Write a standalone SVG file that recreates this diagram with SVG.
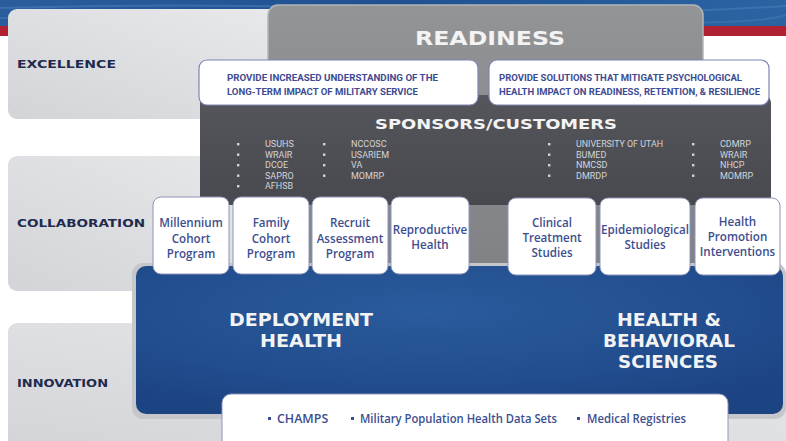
<svg xmlns="http://www.w3.org/2000/svg" width="786" height="441" viewBox="0 0 786 441">
<defs>
<linearGradient id="gPanel" x1="1" y1="0" x2="0" y2="1">
<stop offset="0" stop-color="#e9eaec"/>
<stop offset="1" stop-color="#d3d4d7"/>
</linearGradient>
<linearGradient id="gReady" x1="0" y1="0" x2="0" y2="1">
<stop offset="0" stop-color="#929496"/>
<stop offset="1" stop-color="#7f8184"/>
</linearGradient>
<linearGradient id="gSpon" x1="0" y1="0" x2="0" y2="1">
<stop offset="0" stop-color="#55565c"/>
<stop offset="1" stop-color="#48494f"/>
</linearGradient>
<radialGradient id="gBlue" cx="0.45" cy="0.3" r="0.75">
<stop offset="0" stop-color="#2a5b9c"/>
<stop offset="0.6" stop-color="#224e8f"/>
<stop offset="1" stop-color="#1c4382"/>
</radialGradient>
<linearGradient id="gBanner" x1="0" y1="0" x2="1" y2="0">
<stop offset="0" stop-color="#2a5d9c"/>
<stop offset="0.5" stop-color="#1f5192"/>
<stop offset="1" stop-color="#2c64a3"/>
</linearGradient>
<style>
.label{font-family:"DejaVu Sans",sans-serif;font-weight:bold;font-size:11px;fill:#1f2b4e}
.title{font-family:"DejaVu Sans",sans-serif;font-weight:bold;fill:#f3f3f3}
.obj{fill:#fff;stroke:#7d84b3;stroke-width:1.2}
.objt{font-family:Roboto,"Liberation Sans",sans-serif;font-weight:bold;font-size:9.6px;fill:#3e4b92}
.sp{font-family:Roboto,"Liberation Sans",sans-serif;font-size:9px;fill:#d3d4d8}
.bul{fill:#d3d4d8}
.box{fill:#fff;stroke:#8d95bb;stroke-width:1}
.bt{font-family:"Open Sans","Liberation Sans",sans-serif;font-weight:600;font-size:11.6px;fill:#3d4e8f;text-anchor:middle}
.bl{font-family:"Open Sans","Liberation Sans",sans-serif;font-weight:600;font-size:12.4px;fill:#3d4e8f}
.bb{fill:#3d4e8f}
</style>
</defs>

<g id="banner">
<rect x="0" y="0" width="786" height="27" fill="url(#gBanner)"/>
<path d="M0 8 Q200 2 400 10 T786 6" fill="none" stroke="#4a7bb5" stroke-width="2" opacity="0.6"/>
<path d="M0 18 Q250 12 500 20 T786 15" fill="none" stroke="#4a7bb5" stroke-width="2" opacity="0.5"/>
<rect x="0" y="26" width="786" height="10" fill="#b02232"/>
</g>

<g id="excellence">
<rect x="8" y="9" width="300" height="110" rx="9" fill="url(#gPanel)"/>
<text class="label" x="17" y="68" textLength="99" lengthAdjust="spacingAndGlyphs">EXCELLENCE</text>
</g>

<g id="collaboration">
<rect x="8" y="156" width="300" height="135" rx="9" fill="url(#gPanel)"/>
<text class="label" x="17" y="227" textLength="128" lengthAdjust="spacingAndGlyphs">COLLABORATION</text>
</g>

<g id="innovation">
<rect x="8" y="323" width="790" height="130" rx="9" fill="url(#gPanel)"/>
<text class="label" x="17" y="387" textLength="91" lengthAdjust="spacingAndGlyphs">INNOVATION</text>
</g>

<g id="readiness">
<rect x="268" y="5" width="435" height="272" rx="10" fill="url(#gReady)" stroke="#b3b5b8" stroke-width="1.5"/>
<text class="title" x="415" y="45" font-size="19" textLength="150" lengthAdjust="spacingAndGlyphs">READINESS</text>
</g>

<g id="sponsors">
<rect x="200" y="95" width="571" height="110" rx="8" fill="url(#gSpon)"/>
<text class="title" x="375" y="128.5" font-size="14" textLength="242" lengthAdjust="spacingAndGlyphs">SPONSORS/CUSTOMERS</text>
<g class="bul">
<rect x="237" y="143" width="2.4" height="2.4"/><rect x="237" y="153.5" width="2.4" height="2.4"/><rect x="237" y="164" width="2.4" height="2.4"/><rect x="237" y="174.5" width="2.4" height="2.4"/><rect x="237" y="185" width="2.4" height="2.4"/>
<rect x="323" y="143" width="2.4" height="2.4"/><rect x="323" y="153.5" width="2.4" height="2.4"/><rect x="323" y="164" width="2.4" height="2.4"/><rect x="323" y="174.5" width="2.4" height="2.4"/>
<rect x="548" y="143" width="2.4" height="2.4"/><rect x="548" y="153.5" width="2.4" height="2.4"/><rect x="548" y="164" width="2.4" height="2.4"/><rect x="548" y="174.5" width="2.4" height="2.4"/>
<rect x="692" y="143" width="2.4" height="2.4"/><rect x="692" y="153.5" width="2.4" height="2.4"/><rect x="692" y="164" width="2.4" height="2.4"/><rect x="692" y="174.5" width="2.4" height="2.4"/>
</g>
<text class="sp" x="265" y="147">USUHS</text>
<text class="sp" x="265" y="157.5">WRAIR</text>
<text class="sp" x="265" y="168">DCOE</text>
<text class="sp" x="265" y="178.5">SAPRO</text>
<text class="sp" x="265" y="189">AFHSB</text>
<text class="sp" x="351" y="147">NCCOSC</text>
<text class="sp" x="351" y="157.5">USARIEM</text>
<text class="sp" x="351" y="168">VA</text>
<text class="sp" x="351" y="178.5">MOMRP</text>
<text class="sp" x="576" y="147" textLength="87" lengthAdjust="spacingAndGlyphs">UNIVERSITY OF UTAH</text>
<text class="sp" x="576" y="157.5">BUMED</text>
<text class="sp" x="576" y="168">NMCSD</text>
<text class="sp" x="576" y="178.5">DMRDP</text>
<text class="sp" x="720" y="147">CDMRP</text>
<text class="sp" x="720" y="157.5">WRAIR</text>
<text class="sp" x="720" y="168">NHCP</text>
<text class="sp" x="720" y="178.5">MOMRP</text>
</g>

<g id="objective-1">
<rect class="obj" x="199" y="60" width="279" height="45" rx="8"/>
<text class="objt" x="227" y="81" textLength="211" lengthAdjust="spacingAndGlyphs">PROVIDE INCREASED UNDERSTANDING OF THE</text>
<text class="objt" x="227" y="95" textLength="191" lengthAdjust="spacingAndGlyphs">LONG-TERM IMPACT OF MILITARY SERVICE</text>
</g>

<g id="objective-2">
<rect class="obj" x="489" y="60" width="280" height="45" rx="8"/>
<text class="objt" x="499" y="81" textLength="243" lengthAdjust="spacingAndGlyphs">PROVIDE SOLUTIONS THAT MITIGATE PSYCHOLOGICAL</text>
<text class="objt" x="499" y="95" textLength="261" lengthAdjust="spacingAndGlyphs">HEALTH IMPACT ON READINESS, RETENTION, &amp; RESILIENCE</text>
</g>

<g id="sciences-panel">
<rect x="132" y="263" width="654" height="156" rx="11" fill="#c5c7ca"/>
<rect x="136" y="266" width="647" height="148" rx="10" fill="url(#gBlue)"/>
<text class="title" x="229" y="326" font-size="17" textLength="144" lengthAdjust="spacingAndGlyphs">DEPLOYMENT</text>
<text class="title" x="260" y="347" font-size="17" textLength="82" lengthAdjust="spacingAndGlyphs">HEALTH</text>
<text class="title" x="617" y="326" font-size="17" textLength="104" lengthAdjust="spacingAndGlyphs">HEALTH &amp;</text>
<text class="title" x="603" y="347" font-size="17" textLength="132" lengthAdjust="spacingAndGlyphs">BEHAVIORAL</text>
<text class="title" x="618" y="368" font-size="17" textLength="100" lengthAdjust="spacingAndGlyphs">SCIENCES</text>
</g>

<g id="data-sources">
<rect x="222" y="394" width="506" height="60" rx="9" fill="#fff" stroke="#8d95bb" stroke-width="1"/>
<rect class="bb" x="268" y="417" width="3" height="3"/>
<rect class="bb" x="351" y="417" width="3" height="3"/>
<rect class="bb" x="577" y="417" width="3" height="3"/>
<text class="bl" x="277" y="423">CHAMPS</text>
<text class="bl" x="360" y="423" textLength="197" lengthAdjust="spacingAndGlyphs">Military Population Health Data Sets</text>
<text class="bl" x="587" y="423" textLength="99" lengthAdjust="spacingAndGlyphs">Medical Registries</text>
</g>

<g id="millennium-cohort">
<rect class="box" x="153" y="197" width="76" height="77" rx="8"/>
<text class="bt" x="191" y="227">Millennium</text>
<text class="bt" x="191" y="242.5">Cohort</text>
<text class="bt" x="191" y="258">Program</text>
</g>
<g id="family-cohort">
<rect class="box" x="233" y="197" width="76" height="77" rx="8"/>
<text class="bt" x="271" y="227">Family</text>
<text class="bt" x="271" y="242.5">Cohort</text>
<text class="bt" x="271" y="258">Program</text>
</g>
<g id="recruit-assessment">
<rect class="box" x="312" y="197" width="76" height="77" rx="8"/>
<text class="bt" x="350" y="227">Recruit</text>
<text class="bt" x="350" y="242.5">Assessment</text>
<text class="bt" x="350" y="258">Program</text>
</g>
<g id="reproductive-health">
<rect class="box" x="391" y="197" width="78" height="77" rx="8"/>
<text class="bt" x="430" y="234">Reproductive</text>
<text class="bt" x="430" y="249">Health</text>
</g>
<g id="clinical-treatment">
<rect class="box" x="508" y="198" width="88" height="77" rx="8"/>
<text class="bt" x="552" y="227">Clinical</text>
<text class="bt" x="552" y="242">Treatment</text>
<text class="bt" x="552" y="257">Studies</text>
</g>
<g id="epidemiological">
<rect class="box" x="600" y="198" width="90" height="77" rx="8"/>
<text class="bt" x="645" y="234" font-size="11.3">Epidemiological</text>
<text class="bt" x="645" y="249">Studies</text>
</g>
<g id="health-promotion">
<rect class="box" x="695" y="198" width="85" height="77" rx="8"/>
<text class="bt" x="737.5" y="226">Health</text>
<text class="bt" x="737.5" y="241">Promotion</text>
<text class="bt" x="737.5" y="256">Interventions</text>
</g>
</svg>
